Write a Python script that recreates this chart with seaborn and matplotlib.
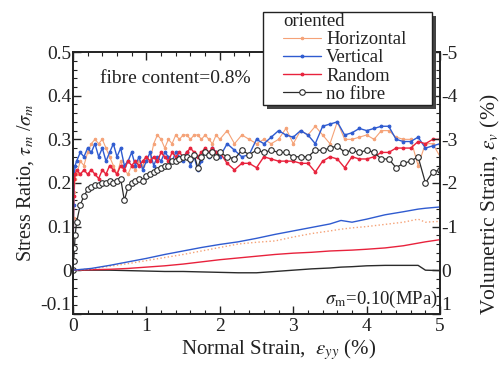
import numpy as np
import pandas as pd
import matplotlib
matplotlib.use("Agg")
import matplotlib.pyplot as plt
import seaborn as sns
from matplotlib.ticker import MultipleLocator
from matplotlib.patches import Rectangle

# strain axis for the stress ratio records (dense start, then ~0.1 steps)
strain = [0, 0.01, 0.02, 0.03, 0.05, 0.10, 0.15, 0.20, 0.25, 0.30, 0.35, 0.40, 0.45, 0.50,
          0.55, 0.60, 0.65, 0.70, 0.75, 0.80, 0.85, 0.90, 0.95, 1.00, 1.05, 1.10, 1.15, 1.20,
          1.25, 1.30, 1.35, 1.40, 1.45, 1.50, 1.55, 1.60, 1.65, 1.70, 1.75, 1.80, 1.85, 1.90,
          1.95, 2.00, 2.1, 2.2, 2.3, 2.4, 2.5, 2.6, 2.7, 2.8, 2.9, 3.0, 3.1, 3.2, 3.3, 3.4,
          3.5, 3.6, 3.7, 3.8, 3.9, 4.0, 4.1, 4.2, 4.3, 4.4, 4.5, 4.6, 4.7, 4.8, 4.9, 5.0]

ratio_horizontal = [0, 0.12, 0.18, 0.21, 0.22, 0.25, 0.24, 0.27, 0.29, 0.30, 0.29, 0.30, 0.28, 0.26,
                    0.24, 0.22, 0.25, 0.23, 0.22, 0.24, 0.23, 0.25, 0.24, 0.26, 0.25, 0.29, 0.31, 0.30,
                    0.28, 0.30, 0.29, 0.31, 0.30, 0.31, 0.31, 0.30, 0.31, 0.31, 0.30, 0.31, 0.30, 0.29,
                    0.31, 0.30, 0.32, 0.29, 0.31, 0.30, 0.29, 0.30, 0.29, 0.30, 0.325, 0.29, 0.32, 0.31, 0.33, 0.31,
                    0.29, 0.34, 0.30, 0.30, 0.305, 0.31, 0.30, 0.32, 0.32, 0.305, 0.30, 0.30, 0.24, 0.29, 0.29, 0.26]

ratio_vertical = [0, 0.15, 0.22, 0.24, 0.25, 0.27, 0.26, 0.28, 0.27, 0.29, 0.26, 0.28, 0.25, 0.27,
                  0.29, 0.26, 0.28, 0.24, 0.25, 0.27, 0.24, 0.26, 0.23, 0.25, 0.27, 0.24, 0.26, 0.25,
                  0.27, 0.26, 0.25, 0.27, 0.26, 0.25, 0.27, 0.24, 0.26, 0.23, 0.25, 0.27, 0.26, 0.28,
                  0.27, 0.26, 0.29, 0.275, 0.26, 0.265, 0.30, 0.29, 0.305, 0.32, 0.31, 0.305, 0.32, 0.31, 0.29, 0.33,
                  0.335, 0.34, 0.31, 0.315, 0.325, 0.32, 0.325, 0.33, 0.33, 0.30, 0.295, 0.295, 0.305, 0.28, 0.285, 0.29]

ratio_random = [0, 0.17, 0.21, 0.22, 0.23, 0.22, 0.23, 0.22, 0.23, 0.22, 0.21, 0.23, 0.22, 0.24,
                0.23, 0.22, 0.24, 0.23, 0.25, 0.24, 0.25, 0.24, 0.25, 0.26, 0.25, 0.26, 0.25, 0.27,
                0.26, 0.25, 0.27, 0.26, 0.27, 0.26, 0.27, 0.28, 0.27, 0.26, 0.27, 0.28, 0.27, 0.28,
                0.27, 0.27, 0.245, 0.23, 0.245, 0.245, 0.235, 0.26, 0.255, 0.25, 0.25, 0.25, 0.245, 0.245, 0.225, 0.25,
                0.26, 0.255, 0.235, 0.26, 0.255, 0.255, 0.26, 0.27, 0.27, 0.28, 0.28, 0.28, 0.295, 0.29, 0.30, 0.30]

ratio_nofibre = [0, 0.02, 0.05, 0.08, 0.11, 0.15, 0.17, 0.185, 0.19, 0.195, 0.195, 0.20, 0.20, 0.205,
                 0.20, 0.205, 0.21, 0.16, 0.19, 0.20, 0.205, 0.21, 0.205, 0.215, 0.22, 0.225, 0.23, 0.235,
                 0.24, 0.24, 0.25, 0.25, 0.255, 0.26, 0.26, 0.255, 0.265, 0.235, 0.26, 0.27, 0.265, 0.27,
                 0.26, 0.27, 0.26, 0.255, 0.275, 0.265, 0.275, 0.27, 0.275, 0.27, 0.27, 0.26, 0.26, 0.26, 0.275, 0.275,
                 0.28, 0.285, 0.27, 0.275, 0.27, 0.275, 0.27, 0.255, 0.255, 0.235, 0.245, 0.25, 0.26, 0.20, 0.225, 0.23]

# volumetric strain records (%)
vol_strain = [0, 0.25, 0.5, 0.75, 1.0, 1.25, 1.5, 1.75, 2.0, 2.25, 2.5, 2.75, 3.0, 3.25,
              3.5, 3.65, 3.8, 4.0, 4.25, 4.5, 4.7, 4.8, 5.0]
vol_horizontal = [0, -0.03, -0.09, -0.15, -0.22, -0.29, -0.36, -0.44, -0.52, -0.60, -0.64, -0.67,
                  -0.76, -0.84, -0.90, -0.94, -0.97, -1.00, -1.05, -1.10, -1.17, -1.10, -1.12]
vol_vertical = [0, -0.04, -0.11, -0.19, -0.27, -0.36, -0.44, -0.52, -0.59, -0.65, -0.73, -0.82,
                -0.90, -0.98, -1.06, -1.14, -1.10, -1.17, -1.27, -1.34, -1.40, -1.42, -1.45]
vol_random = [0, -0.01, -0.02, -0.04, -0.07, -0.10, -0.14, -0.19, -0.24, -0.28, -0.32, -0.36,
              -0.39, -0.41, -0.44, -0.45, -0.46, -0.48, -0.51, -0.56, -0.62, -0.65, -0.70]
vol_nofibre = [0, 0.0, 0.0, 0.01, 0.02, 0.03, 0.03, 0.04, 0.05, 0.06, 0.06, 0.03,
               0.0, -0.03, -0.05, -0.07, -0.08, -0.10, -0.11, -0.11, -0.11, 0.0, 0.01]

labels = ["Horizontal", "Vertical", "Random", "no fibre"]
colors = {"Horizontal": "#f5a277", "Vertical": "#2f5bd0", "Random": "#e8223c", "no fibre": "#2b2b2b"}
ink = "#222222"

sns.set_style("ticks")
plt.rcParams["font.family"] = ["Liberation Serif", "DejaVu Serif"]
plt.rcParams["mathtext.fontset"] = "stix"
plt.rcParams["axes.unicode_minus"] = False

ratio = pd.DataFrame({"strain": strain, "Horizontal": ratio_horizontal, "Vertical": ratio_vertical,
                      "Random": ratio_random, "no fibre": ratio_nofibre})
vol = pd.DataFrame({"strain": vol_strain, "Horizontal": vol_horizontal, "Vertical": vol_vertical,
                    "Random": vol_random, "no fibre": vol_nofibre})

fig = plt.figure(figsize=(5.03, 3.67), dpi=100)
ax = fig.add_axes([0.145, 0.145, 0.73, 0.713])
ax2 = ax.twinx()

styles = {
    "Horizontal": dict(marker="o", markersize=1.8, linewidth=0.8),
    "Vertical": dict(marker="o", markersize=2.0, linewidth=1.0),
    "Random": dict(marker="o", markersize=2.0, linewidth=1.0),
    "no fibre": dict(marker="o", markersize=4, linewidth=0.9, markerfacecolor="white",
                     markeredgewidth=0.8),
}

for name in labels:
    sns.lineplot(data=ratio, x="strain", y=name, ax=ax, color=colors[name], sort=False,
                 estimator=None, markeredgecolor=colors[name], label=name, **styles[name])

for name in ["no fibre", "Random", "Horizontal", "Vertical"]:
    ls = ":" if name == "Horizontal" else "-"
    sns.lineplot(data=vol, x="strain", y=name, ax=ax2, color=colors[name], sort=False,
                 estimator=None, linewidth=1.0, linestyle=ls, legend=False)

ax.set_xlim(0, 5)
ax.set_ylim(-0.1, 0.5)
ax2.set_ylim(1, -5)
ax.xaxis.set_minor_locator(MultipleLocator(0.2))
ax.yaxis.set_minor_locator(MultipleLocator(0.02))
ax2.yaxis.set_major_locator(MultipleLocator(1))
ax2.yaxis.set_minor_locator(MultipleLocator(0.2))
ax.set_yticks([-0.1, 0, 0.1, 0.2, 0.3, 0.4, 0.5])
ax.set_yticklabels(["-0.1", "0", "0.1", "0.2", "0.3", "0.4", "0.5"])
ax.set_xticks([0, 1, 2, 3, 4, 5])
ax.set_xticklabels(["0", "1", "2", "3", "4", "5"])
ax2.set_yticks([-5, -4, -3, -2, -1, 0, 1])
ax2.set_yticklabels(["-5", "-4", "-3", "-2", "-1", "0", "1"])

ax.tick_params(axis="both", which="both", direction="in", top=True, right=False,
               labelsize=14, colors=ink)
ax.tick_params(axis="x", pad=3)
ax.tick_params(axis="y", pad=1)
ax.tick_params(which="major", length=6, width=1)
ax.tick_params(which="minor", length=3, width=0.8)
ax2.tick_params(axis="y", which="both", direction="in", labelsize=14, colors=ink, pad=1)
ax2.tick_params(which="major", length=6, width=1)
ax2.tick_params(which="minor", length=3, width=0.8)

# the bottom labels of both y axes sit a little raised, as in the source figure
ax.get_yticklabels()[0].set_verticalalignment("bottom")
ax2.get_yticklabels()[-1].set_verticalalignment("bottom")

for a in (ax, ax2):
    for sp in a.spines.values():
        sp.set_linewidth(1.2)
        sp.set_color(ink)

ax.set_xlabel(r"Normal Strain,  $\varepsilon_{yy}$ (%)", fontsize=15, color=ink)
ax.xaxis.set_label_coords(0.56, -0.09)
ax.set_ylabel(r"Stress Ratio, $\tau_m$ /$\sigma_m$", fontsize=14.5, color=ink)
ax.yaxis.set_label_coords(-0.1, 0.5)
ax2.set_ylabel(r"Volumetric Strain, $\varepsilon_v$ (%)", fontsize=15.5, color=ink)
ax2.yaxis.set_label_coords(1.105, 0.42)

ax.text(0.37, 0.44, "fibre content=0.8%", fontsize=14, color=ink, va="center")
ax.text(4.97, -0.066, r"$\sigma_{\rm m}$=0.10(MPa)", fontsize=13.5, color=ink,
        ha="right", va="center")

# legend box with a drop shadow, drawn in figure pixels
W, H = 503, 367
box = (263, 12, 432, 105)
fig.patches.append(Rectangle(((box[0] + 4) / W, (H - box[3] - 4) / H),
                             (box[2] - box[0]) / W, (box[3] - box[1]) / H,
                             transform=fig.transFigure, facecolor="#444444",
                             edgecolor="none", zorder=5))
fig.patches.append(Rectangle((box[0] / W, (H - box[3]) / H),
                             (box[2] - box[0]) / W, (box[3] - box[1]) / H,
                             transform=fig.transFigure, facecolor="white",
                             edgecolor=ink, linewidth=1.0, zorder=6))

handles, hl = ax.get_legend_handles_labels()
ax.get_legend().remove()
leg = fig.legend(handles, hl, title="oriented", loc="upper left",
                 bbox_to_anchor=(283 / W, (H - 13) / H), frameon=False,
                 fontsize=13.5, title_fontsize=13.5, handlelength=2.0, handletextpad=0.3,
                 labelspacing=0.06, borderpad=0.0, borderaxespad=0)
leg.set_zorder(7)
leg._legend_box.align = "left"
for t in leg.get_texts():
    t.set_color(ink)
leg.get_title().set_color(ink)

fig.savefig("out.png", dpi=100)
